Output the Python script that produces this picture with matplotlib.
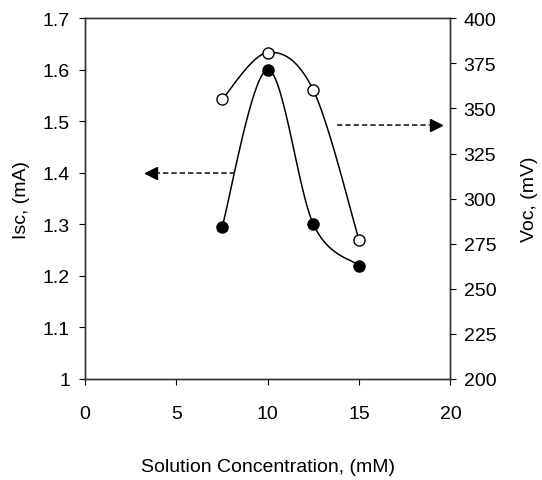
import numpy as np
import matplotlib
matplotlib.use("Agg")
import matplotlib.pyplot as plt

plt.rcParams['font.family'] = ['Liberation Sans', 'DejaVu Sans']

conc = [7.5, 10, 12.5, 15]
isc = [1.295, 1.60, 1.30, 1.22]      # mA, filled circles
voc = [355, 381, 360, 277]           # mV, open circles

x_ticks = [0, 5, 10, 15, 20]
isc_ticks = [1, 1.1, 1.2, 1.3, 1.4, 1.5, 1.6, 1.7]
isc_ticklabels = ['1', '1.1', '1.2', '1.3', '1.4', '1.5', '1.6', '1.7']
voc_ticks = [200, 225, 250, 275, 300, 325, 350, 375, 400]

# arrows pointing to the axis each curve belongs to
isc_arrow_x = [8.2, 3.6]
isc_arrow_y = 1.40
voc_arrow_x = [13.8, 19.2]
voc_arrow_y = 341


def smooth(xs, ys, xspan, yspan, n=40):
    # excel-style smoothed line: catmull-rom bezier in normalised space
    p = np.column_stack([np.asarray(xs) / xspan, np.asarray(ys) / yspan])
    pts = []
    for i in range(len(p) - 1):
        p0 = p[i - 1] if i > 0 else p[i]
        p3 = p[i + 2] if i + 2 < len(p) else p[i + 1]
        p1, p2 = p[i], p[i + 1]
        c1 = p1 + (p2 - p0) / 6
        c2 = p2 - (p3 - p1) / 6
        t = np.linspace(0, 1, n)[:, None]
        seg = ((1 - t) ** 3 * p1 + 3 * (1 - t) ** 2 * t * c1
               + 3 * (1 - t) * t ** 2 * c2 + t ** 3 * p2)
        pts.append(seg if i == 0 else seg[1:])
    pts = np.vstack(pts)
    return pts[:, 0] * xspan, pts[:, 1] * yspan


fig = plt.figure(figsize=(5.42, 4.81), dpi=100)
ax = fig.add_axes([0.157, 0.21, 0.674, 0.750])
ax2 = ax.twinx()

sx, sy = smooth(conc, isc, 20, 0.7)
ax.plot(sx, sy, color='black', lw=1.1, zorder=2)
ax.plot(conc, isc, 'o', color='black', ms=8, zorder=3)

sx, sy = smooth(conc, voc, 20, 200)
ax2.plot(sx, sy, color='black', lw=1.1, zorder=2)
ax2.plot(conc, voc, 'o', mfc='white', mec='black', mew=1.0, ms=8, zorder=3)

ax.plot(isc_arrow_x, [isc_arrow_y] * 2, '--', color='#222222', lw=1.2, dashes=(3.2, 1.8))
ax.plot(isc_arrow_x[1], isc_arrow_y, '<', color='black', ms=8)
ax2.plot(voc_arrow_x, [voc_arrow_y] * 2, '--', color='#222222', lw=1.2, dashes=(3.2, 1.8))
ax2.plot(voc_arrow_x[1], voc_arrow_y, '>', color='black', ms=8)

ax.set_xlim(0, 20)
ax.set_ylim(1, 1.7)
ax2.set_ylim(200, 400)
ax.set_xticks(x_ticks)
ax.set_yticks(isc_ticks)
ax.set_yticklabels(isc_ticklabels)
ax2.set_yticks(voc_ticks)

ax.tick_params(axis='x', direction='out', length=4, pad=14.5, labelsize=14)
ax.tick_params(axis='y', direction='out', length=4.5, pad=6.3, labelsize=14)
ax2.tick_params(axis='y', direction='out', length=4.5, pad=5, labelsize=14)

for a in (ax, ax2):
    for s in a.spines.values():
        s.set_linewidth(1.0)
        s.set_color('#333333')

ax.set_xlabel('Solution Concentration, (mM)', fontsize=14)
ax.set_ylabel('Isc, (mA)', fontsize=14)
ax2.set_ylabel('Voc, (mV)', fontsize=14)
ax.xaxis.set_label_coords(0.5, -0.219)
ax.yaxis.set_label_coords(-0.151, 0.5)
ax2.yaxis.set_label_coords(1.192, 0.5)

fig.savefig('out.png', dpi=100)
